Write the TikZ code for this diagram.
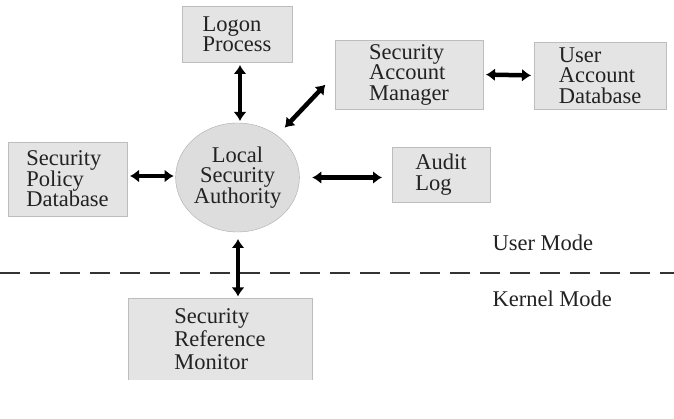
\documentclass[tikz,border=0pt]{standalone}
\usepackage{fontspec}
\setmainfont{Liberation Serif}
\usetikzlibrary{arrows.meta,shapes.geometric}
\definecolor{boxfill}{HTML}{E4E4E4}
\definecolor{boxedge}{HTML}{BDBDBD}
\definecolor{inktext}{HTML}{222222}

\tikzset{
  secbox/.style={rectangle, draw=boxedge, fill=boxfill, inner sep=0pt, outer sep=0pt,
    align=left, text=inktext, font=\fontsize{22.5}{20.5}\selectfont},
  twoway/.style={{Latex[length=9pt,width=13pt]}-{Latex[length=9pt,width=13pt]}, line width=4.5pt},
  modetext/.style={anchor=west, text=inktext, font=\fontsize{22.5}{24}\selectfont},
}

\begin{document}
\begin{tikzpicture}[x=1pt, y=-1pt]
\useasboundingbox (0,0) rectangle (674,419);
% user mode parts
\node[ellipse, draw=boxedge!90!black, fill=boxfill!97!black, minimum width=117pt, minimum height=109pt,
  inner sep=0pt, outer sep=0pt, align=center, text=inktext, font=\fontsize{22.5}{20.5}\selectfont]
  (lsa) at (237.5,177.5) {Local\\Security\\Authority};
\node[secbox, minimum width=110pt, minimum height=56pt] (logon) at (237,34) {Logon\\Process};
\node[secbox, minimum width=119pt, minimum height=74pt] (spd) at (67.5,179) {Security\\Policy\\Database};
\node[secbox, minimum width=148pt, minimum height=69pt] (sam) at (409,74.5) {Security\\Account\\Manager};
\node[secbox, minimum width=132pt, minimum height=67pt] (uad) at (600,75.5) {User\\Account\\Database};
\node[secbox, minimum width=98pt, minimum height=55pt] (audit) at (441,174.5) {Audit\\Log};
% kernel mode part
\node[secbox, draw=none, minimum width=184pt, minimum height=81pt, font=\fontsize{22.5}{23}\selectfont]
  (srm) at (220,339) {Security\\Reference\\Monitor};
\draw[boxedge] (srm.south west) -- (srm.north west) -- (srm.north east) -- (srm.south east);
% mode boundary
\coordinate (sepL) at (0,273);
\coordinate (sepR) at (674,273);
\draw[line width=2pt, dash pattern=on 20pt off 10pt, black!80] (sepL) -- (sepR);
\node[modetext] (user) at (489,243) {User Mode};
\node[modetext] (kernel) at (489,299) {Kernel Mode};
% links
\draw[twoway, shorten <=3pt, shorten >=2pt] (logon.south -| 240,0) -- (lsa.north -| 240,0);
\draw[twoway, shorten <=3pt, shorten >=2pt] ([yshift=3pt]spd.east) -- ([yshift=3pt]spd.east -| lsa.west);
\draw[twoway, shorten <=11pt, shorten >=14pt] (lsa) -- (sam.west);
\draw[twoway, shorten <=3pt, shorten >=3pt] (sam.east) -- (uad.west);
\draw[twoway, shorten <=13pt, shorten >=10pt] (lsa.east) -- (lsa.east -| audit.west);
\draw[twoway, shorten <=7pt, shorten >=2pt] (lsa.south -| 238,0) -- (srm.north -| 238,0);
\end{tikzpicture}
\end{document}
